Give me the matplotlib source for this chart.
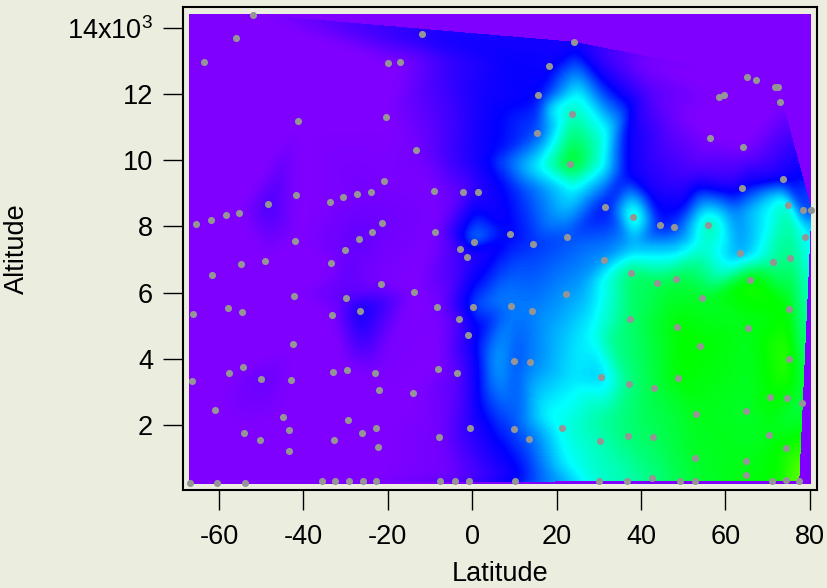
import numpy as np
import matplotlib
matplotlib.use("Agg")
import matplotlib.pyplot as plt
import matplotlib.tri as mtri
from matplotlib.colors import LinearSegmentedColormap
from matplotlib.patches import Rectangle

plt.rcParams["font.family"] = ["Liberation Sans", "DejaVu Sans"]
plt.rcParams["mathtext.fontset"] = "custom"
plt.rcParams["mathtext.rm"] = "Liberation Sans"
plt.rcParams["mathtext.default"] = "regular"
plt.rcParams["axes.unicode_minus"] = False

# sample positions and level
lat = [
    -51.9, -56.0, -63.5, -20.0, -17.2, -41.3, -20.4, -13.3, -20.9, -9.0,
    -2.3, 1.3, -41.7, -24.1, -27.2, -30.6, -33.8, -48.5, -55.2, -58.4,
    -62.0, -65.5, -21.3, -23.7, -26.8, -41.9, -8.8, 0.5, -2.9, -30.2,
    -11.9, 24.1, 18.2, 15.5, 15.4, 23.6, 23.1, 31.5, 38.1, 44.6,
    47.9, 55.9, 8.9, 14.5, 22.5, 65.0, 67.2, 71.8, 72.4, 72.9,
    59.7, 58.4, 56.4, 64.1, 73.6, 63.8, 74.7, 78.3, 80.2, 78.9,
    -1.3, -33.5, -49.2, -54.9, -61.6, -21.6, -13.7, -42.3, -29.9, -26.6,
    -57.9, -54.6, -66.2, -33.2, -8.4, 0.2, -3.2, -1.0, -42.5, -54.3,
    -57.6, -66.4, -50.0, -42.9, -32.9, -29.6, -23.1, -8.1, -3.5, -22.1,
    -14.1, -60.9, -44.8, -29.4, -54.1, -43.3, -50.3, -32.7, -26.1, -22.9,
    -22.4, -43.4, -7.9, -0.5, -66.8, -60.5, -53.8, -35.7, -32.4, -29.1,
    -25.8, -22.7, -7.7, -4.1, -0.7, 31.1, 63.4, 71.3, 75.4, 37.6,
    43.7, 48.3, 65.7, 22.1, 54.4, 9.2, 14.1, 75.0, 37.4, 48.5,
    65.3, 54.0, 75.0, 9.8, 13.8, 30.5, 48.7, 37.1, 43.1, 70.5,
    74.6, 78.1, 64.9, 53.0, 9.8, 21.2, 13.5, 30.3, 36.8, 42.9,
    70.2, 74.3, 52.8, 64.9, 64.8, 42.6, 10.1, 30.0, 36.6, 49.2,
    52.7, 70.9, 74.3, 77.3,
]
alt = [
    14395, 13700, 12957, 12927, 12957, 11193, 11296, 10299, 9380, 9060,
    9039, 9030, 8939, 9039, 8979, 8879, 8746, 8667, 8395, 8353,
    8202, 8081, 8102, 7831, 7610, 7568, 7822, 7519, 7326, 7287,
    13821, 13561, 12855, 11969, 10830, 11404, 9876, 8577, 8284, 8033,
    7991, 8051, 7770, 7459, 7670, 12522, 12432, 12220, 12202, 11758,
    11960, 11900, 10661, 10408, 9432, 9169, 8646, 8504, 8495, 7680,
    7084, 6894, 6964, 6864, 6532, 6269, 6027, 5897, 5846, 5453,
    5526, 5423, 5353, 5332, 5556, 5574, 5202, 4728, 4447, 3761,
    3571, 3338, 3399, 3359, 3610, 3671, 3580, 3701, 3580, 3048,
    2967, 2444, 2242, 2151, 1758, 1840, 1538, 1556, 1758, 1900,
    1344, 1215, 1628, 1918, 257, 248, 257, 299, 299, 299,
    299, 308, 299, 299, 299, 6994, 7196, 6924, 7054, 6592,
    6290, 6411, 6380, 5958, 5828, 5604, 5435, 5513, 5193, 4961,
    4930, 4396, 4003, 3943, 3894, 3450, 3420, 3230, 3109, 2846,
    2816, 2665, 2414, 2332, 1879, 1909, 1577, 1508, 1668, 1628,
    1707, 1305, 1012, 903, 499, 390, 317, 317, 299, 317,
    308, 308, 339, 299,
]
level = [
    0, 0, 0, 0, 0, 0, 0, 0.1, 0.05, 0.05,
    0.3, 0.7, 0, 0.1, 0.1, 0.05, 0.05, 0.45, 0, 0,
    0, 0, 0.15, 0.2, 0.25, 0, 0.05, 1.6, 0.5, 0.2,
    0.85, 0.85, 0.9, 1.0, 1.3, 2.3, 2.95, 1.0, 2.4, 1.0,
    1.2, 2.4, 1.0, 1.2, 1.3, 0, 0, 0, 0, 0,
    0, 0, 0, 0, 0.9, 1.0, 2.3, 0.9, 1.5, 2.0,
    0.6, 0, 0, 0, 0, 0.05, 0, 0, 0.3, 0.95,
    0, 0, 0, 0, 0.05, 1.3, 0.4, 0.8, 0, 0,
    0, 0, 0.2, 0, 0, 0, 0.05, 0, 0.3, 0,
    0, 0, 0, 0, 0, 0, 0, 0, 0, 0,
    0, 0, 0.1, 0.7, 0, 0, 0, 0, 0, 0,
    0, 0, 0.1, 0.15, 0.3, 1.6, 1.6, 2.4, 2.5, 2.6,
    2.7, 2.75, 3.1, 1.6, 2.85, 1.5, 1.5, 3.0, 2.6, 3.0,
    2.9, 3.0, 3.2, 1.3, 1.5, 1.8, 3.0, 2.5, 2.75, 3.0,
    2.95, 2.7, 2.85, 2.9, 1.3, 2.1, 1.4, 2.3, 2.55, 2.65,
    2.9, 3.05, 2.85, 2.9, 2.95, 2.5, 0.9, 2.2, 2.3, 2.7,
    2.8, 3.0, 3.1, 3.5,
]

# levels read between the markers, they only shape the surface
extra_lat = [
    31.9, 31.0, 23.9, 15.3, 18.4, 24.8, 36.2, 36.2, 30.3, 42.1,
    46.8, 51.6, 61.8, 30.3, 40.9, 51.6, 27.9, 17.2, 22.4, 32.6,
    32.6, 25.5, 20.8, 5.9, 5.9, 5.9, -7.7, 1.8, 1.8, 8.9,
    -5.3, 8.9, 42.0, 61.8, 74.0, 38.0, 54.4, 47.9, 23.1, 25.5,
]
extra_alt = [
    10821, 9794, 9099, 9794, 11516, 12030, 10821, 9553, 12876, 12120,
    10821, 9703, 9310, 13329, 13027, 11214, 4779, 2302, 792, 4568,
    2151, 6290, 4568, 3873, 5776, 1849, 12421, 11818, 10006, 13027,
    13027, 9099, 9120, 8400, 8900, 7400, 7300, 7400, 3360, 4870,
]
extra_level = [
    2.0, 2.0, 2.0, 2.0, 2.0, 2.0, 1.0, 1.0, 0.7, 0.3,
    0.3, 0.4, 0.6, 0.5, 0, 0, 2.0, 2.0, 2.0, 2.45,
    2.45, 1.6, 1.75, 1.7, 1.5, 1.1, 0.5, 0.85, 0.9, 0.95,
    0.6, 1.1, 0.8, 1.5, 2.0, 1.7, 2.2, 1.7, 1.9, 1.9,
]

x_ticks = [-60, -40, -20, 0, 20, 40, 60, 80]
y_ticks = [2000, 4000, 6000, 8000, 10000, 12000, 14000]
y_labels = ["2", "4", "6", "8", "10", "12", "14x10$^{3}$"]

bg = "#ebeedf"
purple = "#8000ff"
cmap = LinearSegmentedColormap.from_list(
    "rainbow_rev", [purple, "#0000ff", "#00ffff", "#00ff00", "#ffff00", "#ff0000"])

lat = np.array(lat)
alt = np.array(alt)
level = np.array(level)


def smooth(values, inside, sigma):
    # gaussian blur that ignores the cells outside the hull
    t = np.arange(-3 * sigma, 3 * sigma + 1)
    kernel = np.exp(-0.5 * (t / sigma) ** 2)
    kernel /= kernel.sum()
    top = np.where(inside, values, 0.0)
    weight = inside.astype(float)
    for axis in (0, 1):
        top = np.apply_along_axis(np.convolve, axis, top, kernel, mode="same")
        weight = np.apply_along_axis(np.convolve, axis, weight, kernel, mode="same")
    return top / np.maximum(weight, 1e-6)


fig = plt.figure(figsize=(8.27, 5.88), dpi=100, facecolor=bg)
ax = fig.add_axes([182.7 / 827, 1 - 490 / 588, (817.3 - 182.7) / 827, (490 - 7) / 588])
ax.set_facecolor(bg)
ax.set_xlim(-68.6, 81.75)
ax.set_ylim(36, 14630)

# purple plate behind the surface
ax.add_patch(Rectangle((-67.2, 217), 147.4, 14203, facecolor=purple, edgecolor="none", zorder=1))

# triangulate in a space that is about isotropic on screen
all_lat = np.concatenate([lat, extra_lat])
all_alt = np.concatenate([alt, extra_alt])
all_level = np.concatenate([level, extra_level])
tri = mtri.Triangulation(all_lat, all_alt / 128.0)
interp = mtri.LinearTriInterpolator(tri, all_level)
gx, gy = np.meshgrid(np.linspace(-67.2, 80.2, 622), np.linspace(217, 14420, 470))
raw = interp(gx, gy / 128.0)
inside = ~np.ma.getmaskarray(raw)
surface = smooth(np.ma.filled(raw, 0.0), inside, 6)
surface = np.ma.masked_where(~inside, surface)
ax.imshow(surface, origin="lower", extent=(-67.2, 80.2, 217, 14420), cmap=cmap,
          vmin=0, vmax=5, aspect="auto", interpolation="nearest", zorder=2)

ax.scatter(lat, alt, s=26, color="#959595", linewidths=0, zorder=3)

ax.set_xticks(x_ticks)
ax.set_yticks(y_ticks)
ax.set_yticklabels(y_labels)
ax.tick_params(axis="x", length=14.4, width=1.0, labelsize=19.5, pad=10)
ax.tick_params(axis="y", length=14.4, width=1.0, labelsize=19.5, pad=7)
for side in ax.spines.values():
    side.set_linewidth(1.5)

ax.set_xlabel("Latitude", fontsize=19.5)
ax.set_ylabel("Altitude", fontsize=19.5)
ax.xaxis.set_label_coords(0.5, -0.147)
ax.yaxis.set_label_coords(-0.2406, 0.5)

fig.savefig("out.png", dpi=100, facecolor=bg)
